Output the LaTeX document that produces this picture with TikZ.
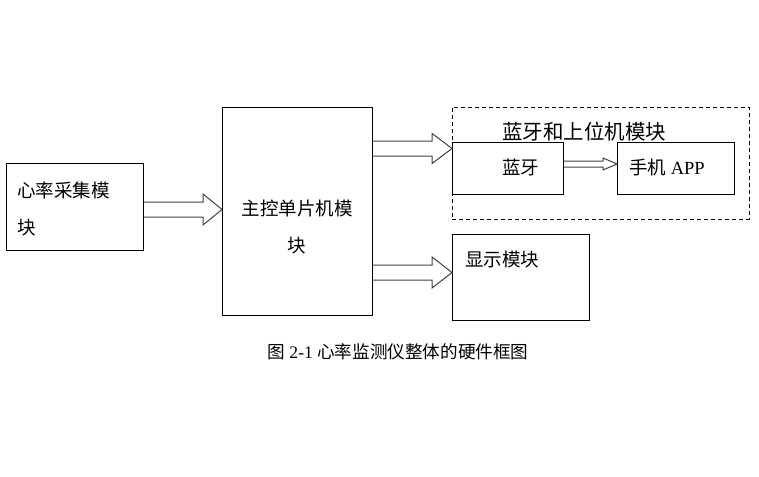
\documentclass[tikz,border=0pt]{standalone}
\usepackage{fontspec}
\setmainfont{Liberation Serif}
\newfontfamily\cjk{Noto Sans CJK SC}
\usetikzlibrary{calc}
\tikzset{
  box/.style={draw=black, line width=0.8pt, inner sep=0pt, anchor=north west},
  dbox/.style={draw=black, line width=0.8pt, dash pattern=on 4pt off 3pt, inner sep=0pt, anchor=north west},
  txt/.style={inner sep=0pt, font=\cjk\fontsize{18.5}{37}\selectfont},
  barr/.style={draw=black!75, line width=1pt, line join=miter},
}
\newcommand{\blockarr}[5]{%
  \draw[barr] let \p1=(#1), \p2=(#2) in
    (\x1,\y1+#3) -- (\x2-#5,\y1+#3) -- (\x2-#5,\y1+#4) -- (\x2,\y1)
    -- (\x2-#5,\y1-#4) -- (\x2-#5,\y1-#3) -- (\x1,\y1-#3);}
\begin{document}
\begin{tikzpicture}[x=1pt,y=-1pt]
\useasboundingbox (0,0) rectangle (759,476);
% boxes
\node[box, minimum width=137pt, minimum height=87pt] (heart) at (6,163) {};
\node[box, minimum width=150pt, minimum height=208pt] (mcu) at (222,107) {};
\node[dbox, minimum width=297pt, minimum height=112pt] (btgroup) at (452,107) {};
\node[box, minimum width=111pt, minimum height=52pt] (bt) at (452,142) {};
\node[box, minimum width=117pt, minimum height=52pt] (app) at (617,142) {};
\node[box, minimum width=137pt, minimum height=86pt] (disp) at (452,234) {};
% texts
\node[txt, anchor=west, align=left] (heartT) at (17,208.5) {心率采集模\\块};
\node[txt, align=center] (mcuT) at (297,227) {主控单片机模\\块};
\node[inner sep=0pt, font=\cjk\fontsize{20.5}{25}\selectfont, anchor=west] (btgroupT) at (502,131.5) {蓝牙和上位机模块};
\node[txt, anchor=west] (btT) at (502,167) {蓝牙};
\node[inner sep=0pt, font=\fontsize{18.5}{22}\selectfont, anchor=west] (appT) at (629,167) {{\cjk 手机} APP};
\node[txt, anchor=west] (dispT) at (465,259) {显示模块};
\node[inner sep=0pt, font=\fontsize{17.6}{22}\selectfont] (caption) at (398,352) {{\cjk 图} 2-1 {\cjk 心率监测仪整体的硬件框图}};
% arrows
\coordinate (y1) at (0,209.5);
\coordinate (y2) at (0,148.5);
\coordinate (y3) at (0,272.5);
\coordinate (y4) at (0,164);
\blockarr{heart.east |- y1}{mcu.west |- y1}{7.5pt}{15.5pt}{19pt}
\blockarr{mcu.east |- y2}{bt.west |- y2}{7.5pt}{15pt}{20pt}
\blockarr{mcu.east |- y3}{disp.west |- y3}{7.5pt}{15.5pt}{20pt}
\blockarr{bt.east |- y4}{app.west |- y4}{3pt}{6pt}{14pt}
\end{tikzpicture}
\end{document}
